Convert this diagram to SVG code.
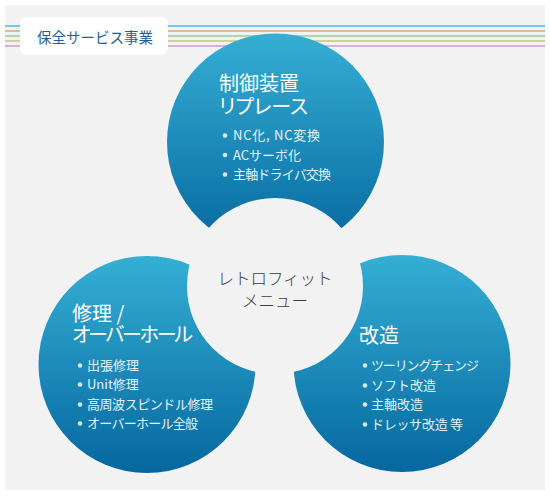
<svg xmlns="http://www.w3.org/2000/svg" width="550" height="500" viewBox="0 0 550 500">
  <style>
    .jp { font-family: "Noto Sans CJK JP", "Noto Sans", sans-serif; }
    .title { font-size: 20px; fill: #ffffff; font-feature-settings: "palt"; }
    .item { font-size: 13px; fill: #e3f2f9; }
    .dot { fill: #d7e6ee; }
    .center { font-size: 16.5px; fill: #3c3c3c; font-weight: 300; }
    .stripe { stroke-width: 1.5; }
  </style>
  <defs>
    <linearGradient id="petal" x1="0" y1="0" x2="0" y2="1">
      <stop offset="0" stop-color="#35afd4"/>
      <stop offset="1" stop-color="#05679f"/>
    </linearGradient>
    <mask id="hole" maskUnits="userSpaceOnUse" x="0" y="0" width="550" height="500">
      <rect x="0" y="0" width="550" height="500" fill="#fff"/>
      <circle cx="275" cy="286" r="88" fill="#000"/>
    </mask>
  </defs>

  <rect x="0" y="0" width="550" height="500" fill="#ffffff"/>
  <rect x="5" y="5" width="540" height="485" fill="#f2f2f2"/>

  <g id="stripes">
    <line class="stripe" x1="5" y1="26" x2="545" y2="26" stroke="#3cbfe4"/>
    <line class="stripe" x1="5" y1="31" x2="545" y2="31" stroke="#d8a87c"/>
    <line class="stripe" x1="5" y1="36" x2="545" y2="36" stroke="#8fcf9c"/>
    <line class="stripe" x1="5" y1="41" x2="545" y2="41" stroke="#c6c57e"/>
    <line class="stripe" x1="5" y1="46" x2="545" y2="46" stroke="#c79bd3"/>
  </g>

  <g id="header">
    <rect x="20" y="17" width="148" height="38" rx="6" fill="#ffffff"/>
    <text class="jp" x="37" y="43" font-size="14.5" fill="#1f5f95">保全サービス事業</text>
  </g>

  <g id="connectors"></g>

  <g id="node-top">
    <circle cx="275.5" cy="142" r="108.5" fill="url(#petal)" mask="url(#hole)"/>
    <text class="jp title" x="219" y="91">制御装置</text>
    <text class="jp title" x="219" y="114">リプレース</text>
    <circle class="dot" cx="225" cy="135.5" r="2.3"/>
    <text class="jp item" x="233" y="140" textLength="87" lengthAdjust="spacing">NC化, NC変換</text>
    <circle class="dot" cx="225" cy="155" r="2.3"/>
    <text class="jp item" x="233" y="159.5">ACサーボ化</text>
    <circle class="dot" cx="225" cy="174.5" r="2.3"/>
    <text class="jp item" x="233" y="179" textLength="98" lengthAdjust="spacing">主軸ドライバ交換</text>
  </g>

  <g id="node-left">
    <circle cx="147" cy="364.5" r="108.5" fill="url(#petal)" mask="url(#hole)"/>
    <text class="jp title" x="72" y="321">修理 /</text>
    <text class="jp title" x="72" y="342" textLength="121" lengthAdjust="spacing">オーバーホール</text>
    <circle class="dot" cx="80" cy="365.5" r="2.3"/>
    <text class="jp item" x="87" y="370">出張修理</text>
    <circle class="dot" cx="80" cy="384.5" r="2.3"/>
    <text class="jp item" x="87" y="389">Unit修理</text>
    <circle class="dot" cx="80" cy="404.5" r="2.3"/>
    <text class="jp item" x="87" y="409" textLength="126" lengthAdjust="spacing">高周波スピンドル修理</text>
    <circle class="dot" cx="80" cy="423.5" r="2.3"/>
    <text class="jp item" x="87" y="428" textLength="111" lengthAdjust="spacing">オーバーホール全般</text>
  </g>

  <g id="node-right">
    <circle cx="402" cy="363.5" r="108.5" fill="url(#petal)" mask="url(#hole)"/>
    <text class="jp title" x="359" y="343">改造</text>
    <circle class="dot" cx="365" cy="365.5" r="2.3"/>
    <text class="jp item" x="371" y="370" textLength="108" lengthAdjust="spacing">ツーリングチェンジ</text>
    <circle class="dot" cx="365" cy="385.5" r="2.3"/>
    <text class="jp item" x="371" y="390">ソフト改造</text>
    <circle class="dot" cx="365" cy="404.5" r="2.3"/>
    <text class="jp item" x="371" y="409">主軸改造</text>
    <circle class="dot" cx="365" cy="424.5" r="2.3"/>
    <text class="jp item" x="371" y="429" textLength="92" lengthAdjust="spacing">ドレッサ改造 等</text>
  </g>

  <g id="node-center">
    <text class="jp center" x="275" y="285" text-anchor="middle">レトロフィット</text>
    <text class="jp center" x="275" y="307" text-anchor="middle">メニュー</text>
  </g>
</svg>
